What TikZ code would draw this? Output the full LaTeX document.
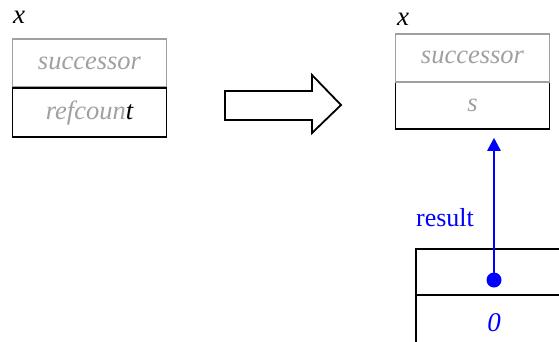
\documentclass[tikz,border=0pt]{standalone}
\usepackage{fontspec}
\setmainfont{Liberation Serif}
\usetikzlibrary{arrows.meta}
\definecolor{lgray}{RGB}{160,160,160}
\tikzset{
  cell/.style={draw, line width=1.8pt, minimum width=154pt, inner sep=0pt, font=\fontsize{26.5}{30}\selectfont\itshape},
  gcell/.style={cell, draw=lgray, text=lgray},
  bcell/.style={cell, draw=black, text=lgray},
  lbl/.style={inner sep=0pt, font=\fontsize{26}{30}\selectfont},
  ptr/.style={blue, line width=2.5pt, -{Triangle[width=13pt,length=13pt]}},
}
\begin{document}
\begin{tikzpicture}[x=1pt,y=-1pt]
\useasboundingbox (0,0) rectangle (559,341);
\begin{scope}
\clip (0,0) rectangle (559,341);
% left record
\node[gcell, minimum height=48pt] (lsucc) at (89.5,63.3) {successor};
\node[bcell, minimum height=49pt] (lref) at (89.5,112.8) {refcoun\textcolor{black}{t}};
\node[lbl, font=\fontsize{27}{30}\selectfont\itshape] (lx) at (19,17) {x};
% big arrow
\draw[line width=1.8pt, fill=white] (225,91) -- (312,91) -- (312,75) -- (341,105) -- (312,133) -- (312,120) -- (225,120) -- cycle;
% right record
\node[bcell, minimum height=47.5pt] (rs) at (472.5,105.6) {s};
\node[gcell, minimum height=47.5pt] (rsucc) at (472.5,57.9) {successor};
\node[lbl, font=\fontsize{27}{30}\selectfont\itshape] (rx) at (403,19) {x};
% bottom record
\node[draw, line width=1.8pt, minimum width=160pt, minimum height=46.6pt, inner sep=0pt, anchor=north west] (rtop) at (415,247.7) {};
\node[draw, line width=1.8pt, minimum width=160pt, minimum height=70pt, inner sep=0pt, anchor=north west] (rbot) at (415,294.3) {};
\node[lbl, text=blue, font=\fontsize{27}{30}\selectfont\itshape] (zero) at (494,323) {0};
\fill[blue] (494,280) circle (7.5pt) coordinate (dot);
\node[lbl, text=blue] (res) at (445,218) {result};
\end{scope}
\draw[ptr, shorten >=7.5pt] (dot) -- (dot |- rs.south);
\end{tikzpicture}
\end{document}
